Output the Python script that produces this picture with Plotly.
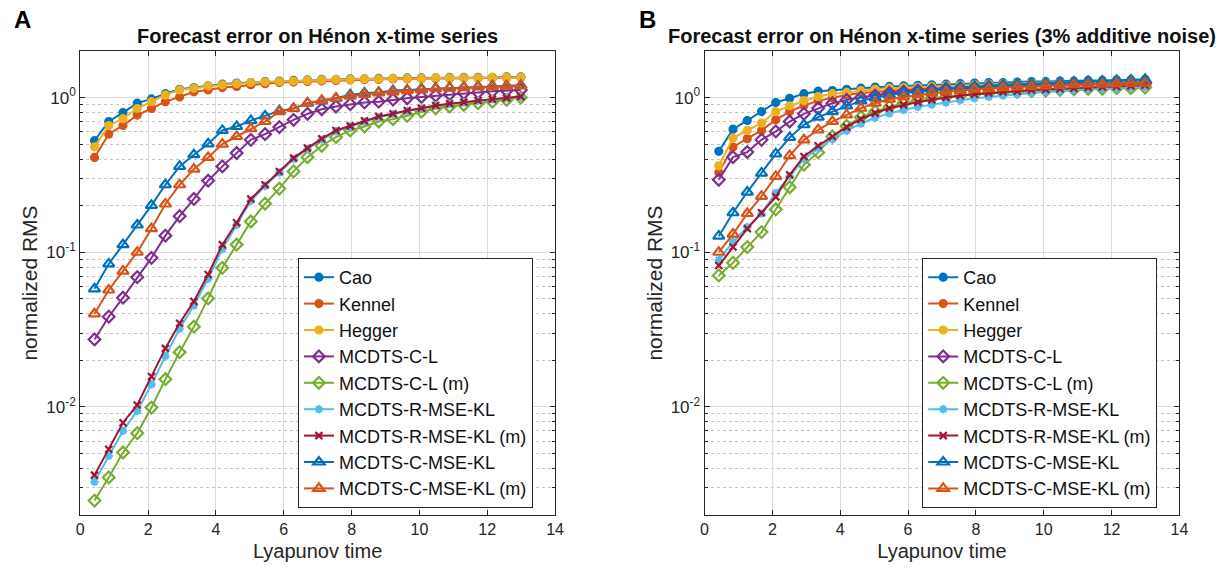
import plotly.graph_objects as go

# ---------------- data ----------------
lyap_time = [0.42, 0.84, 1.26, 1.68, 2.10, 2.51, 2.93, 3.35, 3.77, 4.19, 4.61, 5.03, 5.45,
             5.87, 6.29, 6.70, 7.12, 7.54, 7.96, 8.38, 8.80, 9.22, 9.64, 10.06, 10.48,
             10.89, 11.31, 11.73, 12.15, 12.57, 12.99]

names = ["Cao", "Kennel", "Hegger", "MCDTS-C-L", "MCDTS-C-L (m)", "MCDTS-R-MSE-KL",
         "MCDTS-R-MSE-KL (m)", "MCDTS-C-MSE-KL", "MCDTS-C-MSE-KL (m)"]

# Panel A (noise free)
cao_A = [0.526, 0.70, 0.80, 0.92, 0.98, 1.06, 1.13, 1.16, 1.19, 1.22, 1.24, 1.25, 1.27, 1.28, 1.29,
         1.30, 1.31, 1.31, 1.32, 1.32, 1.33, 1.33, 1.34, 1.34, 1.34, 1.35, 1.35, 1.35, 1.35, 1.36, 1.36]
kennel_A = [0.41, 0.58, 0.66, 0.77, 0.85, 0.94, 1.01, 1.09, 1.12, 1.16, 1.18, 1.21, 1.23, 1.25, 1.26,
            1.27, 1.28, 1.29, 1.30, 1.31, 1.31, 1.32, 1.32, 1.33, 1.33, 1.33, 1.34, 1.34, 1.34, 1.34, 1.35]
hegger_A = [0.48, 0.66, 0.73, 0.85, 0.94, 1.04, 1.12, 1.15, 1.19, 1.21, 1.23, 1.25, 1.26, 1.27, 1.28,
            1.29, 1.30, 1.31, 1.31, 1.32, 1.32, 1.33, 1.33, 1.33, 1.34, 1.34, 1.34, 1.34, 1.35, 1.35, 1.35]
cl_A = [0.0273, 0.0383, 0.0508, 0.069, 0.092, 0.128, 0.171, 0.221, 0.29, 0.359, 0.438, 0.533, 0.58,
        0.644, 0.718, 0.785, 0.84, 0.875, 0.906, 0.93, 0.94, 0.97, 0.99, 1.01, 1.03, 1.05, 1.07, 1.08,
        1.10, 1.11, 1.12]
clm_A = [0.00248, 0.0035, 0.00507, 0.00676, 0.0099, 0.0151, 0.0226, 0.033, 0.0503, 0.0793, 0.112,
         0.158, 0.206, 0.258, 0.333, 0.412, 0.488, 0.555, 0.613, 0.65, 0.70, 0.725, 0.762, 0.81, 0.853,
         0.875, 0.898, 0.92, 0.94, 0.965, 1.0]
rmsekl_A = [0.00328, 0.00483, 0.0070, 0.0094, 0.014, 0.0213, 0.032, 0.0453, 0.0673, 0.105, 0.150,
            0.215, 0.268, 0.328, 0.40, 0.465, 0.535, 0.605, 0.65, 0.70, 0.748, 0.78, 0.82, 0.85, 0.884,
            0.907, 0.93, 0.953, 0.973, 0.99, 1.01]
rmseklm_A = [0.00362, 0.00533, 0.0079, 0.0103, 0.0157, 0.0239, 0.0347, 0.0481, 0.0718, 0.112, 0.155,
             0.221, 0.273, 0.333, 0.406, 0.471, 0.542, 0.613, 0.656, 0.708, 0.754, 0.785, 0.824, 0.853,
             0.888, 0.911, 0.934, 0.957, 0.977, 0.995, 1.015]
cmsekl_A = [0.058, 0.084, 0.112, 0.150, 0.201, 0.273, 0.359, 0.427, 0.502, 0.613, 0.65, 0.71, 0.76,
            0.82, 0.85, 0.92, 0.95, 0.99, 1.04, 1.07, 1.08, 1.11, 1.12, 1.14, 1.15, 1.16, 1.17, 1.18,
            1.19, 1.19, 1.20]
cmseklm_A = [0.040, 0.057, 0.0755, 0.100, 0.142, 0.205, 0.273, 0.345, 0.41, 0.50, 0.56, 0.63, 0.70,
             0.81, 0.85, 0.92, 0.96, 0.99, 1.02, 1.05, 1.07, 1.09, 1.11, 1.12, 1.14, 1.15, 1.16, 1.17,
             1.18, 1.19, 1.19]

# Panel B (3% additive noise)
cao_B = [0.449, 0.625, 0.711, 0.812, 0.929, 0.99, 1.06, 1.10, 1.11, 1.13, 1.15, 1.17, 1.18, 1.19, 1.20,
         1.21, 1.22, 1.23, 1.24, 1.25, 1.25, 1.26, 1.27, 1.27, 1.28, 1.28, 1.29, 1.29, 1.30, 1.30, 1.31]
kennel_B = [0.328, 0.479, 0.542, 0.613, 0.718, 0.812, 0.888, 0.952, 0.996, 1.04, 1.07, 1.09, 1.11, 1.13,
            1.14, 1.15, 1.16, 1.17, 1.18, 1.19, 1.19, 1.20, 1.21, 1.21, 1.22, 1.22, 1.23, 1.23, 1.24, 1.24, 1.25]
hegger_B = [0.362, 0.547, 0.613, 0.684, 0.812, 0.884, 0.956, 1.015, 1.06, 1.08, 1.11, 1.13, 1.15, 1.16,
            1.17, 1.18, 1.19, 1.20, 1.21, 1.22, 1.23, 1.23, 1.24, 1.25, 1.25, 1.26, 1.26, 1.27, 1.27, 1.28, 1.28]
cl_B = [0.294, 0.412, 0.444, 0.533, 0.604, 0.70, 0.785, 0.853, 0.92, 0.966, 1.0, 1.03, 1.07, 1.09, 1.11,
        1.12, 1.14, 1.15, 1.16, 1.17, 1.18, 1.19, 1.19, 1.20, 1.21, 1.21, 1.22, 1.22, 1.23, 1.23, 1.24]
clm_B = [0.0708, 0.0854, 0.108, 0.135, 0.189, 0.263, 0.368, 0.442, 0.56, 0.656, 0.747, 0.812, 0.87, 0.92,
         0.96, 0.99, 1.01, 1.03, 1.05, 1.07, 1.08, 1.09, 1.10, 1.11, 1.12, 1.13, 1.14, 1.14, 1.15, 1.15, 1.16]
rmsekl_B = [0.089, 0.117, 0.145, 0.178, 0.242, 0.31, 0.40, 0.47, 0.54, 0.61, 0.68, 0.74, 0.79, 0.83,
            0.87, 0.90, 0.93, 0.96, 0.99, 1.01, 1.03, 1.05, 1.07, 1.09, 1.10, 1.12, 1.13, 1.14, 1.15, 1.16, 1.17]
rmseklm_B = [0.082, 0.108, 0.142, 0.18, 0.228, 0.317, 0.416, 0.488, 0.56, 0.644, 0.725, 0.793, 0.853,
             0.897, 0.934, 0.966, 1.0, 1.03, 1.05, 1.07, 1.09, 1.10, 1.12, 1.13, 1.14, 1.15, 1.16, 1.17,
             1.18, 1.19, 1.20]
cmsekl_B = [0.127, 0.18, 0.245, 0.325, 0.433, 0.552, 0.667, 0.747, 0.812, 0.884, 0.952, 0.996, 1.04,
            1.07, 1.10, 1.12, 1.14, 1.16, 1.18, 1.19, 1.21, 1.22, 1.23, 1.24, 1.25, 1.26, 1.27, 1.28,
            1.29, 1.30, 1.31]
cmseklm_B = [0.10, 0.131, 0.178, 0.23, 0.309, 0.421, 0.533, 0.619, 0.70, 0.773, 0.853, 0.92, 0.976,
             1.01, 1.04, 1.07, 1.09, 1.11, 1.13, 1.14, 1.16, 1.17, 1.18, 1.19, 1.20, 1.21, 1.22, 1.22,
             1.23, 1.24, 1.24]

series_A = [cao_A, kennel_A, hegger_A, cl_A, clm_A, rmsekl_A, rmseklm_A, cmsekl_A, cmseklm_A]
series_B = [cao_B, kennel_B, hegger_B, cl_B, clm_B, rmsekl_B, rmseklm_B, cmsekl_B, cmseklm_B]

x_ticks = [0, 2, 4, 6, 8, 10, 12, 14]
y_ticks = [0.01, 0.1, 1]
y_ticktext = ["10<sup>-2</sup>", "10<sup>-1</sup>", "10<sup>0</sup>"]

# ---------------- style ----------------
colors = ["#0072BD", "#D95319", "#EDB120", "#7E2F8E", "#77AC30", "#4DBEEE", "#A2142F",
          "#0072BD", "#D95319"]
symbols = ["circle", "circle", "circle", "diamond-open", "diamond-open", "asterisk-open",
           "x-thin-open", "triangle-up-open", "triangle-up-open"]
msizes = [7, 7, 7, 9, 9, 7, 7, 10, 10]

FONT = "Liberation Sans, Arial, Helvetica, sans-serif"
AXC = "#262626"

fig = go.Figure()

for panel, (series, xa, ya, leg) in enumerate([(series_A, "x", "y", "legend"),
                                                (series_B, "x2", "y2", "legend2")]):
    for i, (nm, vals) in enumerate(zip(names, series)):
        fig.add_trace(go.Scatter(
            x=lyap_time, y=vals, name=nm, mode="lines+markers",
            xaxis=xa, yaxis=ya, legend=leg,
            line=dict(color=colors[i], width=2),
            marker=dict(symbol=symbols[i], size=msizes[i], color=colors[i],
                        line=dict(color=colors[i], width=2.2)),
        ))

minor_vals = [m * 10 ** e for e in (-3, -2, -1, 0) for m in range(2, 10) if m * 10 ** e <= 2.0]

def xaxis(domain, anchor):
    return dict(domain=domain, anchor=anchor, range=[0, 14], tickvals=x_ticks,
                showgrid=True, gridcolor="#dcdcdc", gridwidth=1, zeroline=False,
                showline=True, linecolor=AXC, linewidth=1, mirror="ticks",
                ticks="inside", ticklen=5, tickcolor=AXC,
                tickfont=dict(family=FONT, size=16, color=AXC),
                title=dict(text="Lyapunov time", font=dict(family=FONT, size=20, color=AXC), standoff=6))

def yaxis(domain, anchor):
    return dict(domain=domain, anchor=anchor, type="log", range=[-2.699, 0.301],
                tickvals=y_ticks, ticktext=y_ticktext,
                showgrid=True, gridcolor="#dcdcdc", gridwidth=1, zeroline=False,
                showline=True, linecolor=AXC, linewidth=1, mirror="ticks",
                ticks="inside", ticklen=5, tickcolor=AXC,
                tickfont=dict(family=FONT, size=17, color=AXC),
                minor=dict(tickvals=minor_vals, showgrid=True, gridcolor="#c4c4c4",
                           griddash="dot", gridwidth=1, ticks="inside", ticklen=3, tickcolor=AXC),
                title=dict(text="normalized RMS", font=dict(family=FONT, size=21, color=AXC), standoff=2))

ydom = [0.0933, 0.9102]
legfont = dict(family=FONT, size=18, color="#111111")
fig.update_layout(
    width=1229, height=568,
    margin=dict(l=0, r=0, t=0, b=0),
    paper_bgcolor="white", plot_bgcolor="white",
    font=dict(family=FONT, color=AXC),
    xaxis=xaxis([0.0627, 0.4532], "y"),
    yaxis=yaxis(ydom, "x"),
    xaxis2=xaxis([0.5761, 0.9666], "y2"),
    yaxis2=yaxis(ydom, "x2"),
    legend=dict(x=0.2417, y=1 - 508 / 568, xanchor="left", yanchor="bottom",
                bgcolor="white", bordercolor=AXC, borderwidth=1, font=legfont,
                itemwidth=30, tracegroupgap=0, entrywidth=204, entrywidthmode="pixels"),
    legend2=dict(x=0.7551, y=1 - 508 / 568, xanchor="left", yanchor="bottom",
                 bgcolor="white", bordercolor=AXC, borderwidth=1, font=legfont,
                 itemwidth=30, tracegroupgap=0, entrywidth=204, entrywidthmode="pixels"),
    annotations=[
        dict(text="<b>Forecast error on Hénon x-time series</b>", x=0.258, y=1 - 36 / 568,
             xref="paper", yref="paper", xanchor="center", yanchor="middle", showarrow=False,
             font=dict(family=FONT, size=20, color="#111111")),
        dict(text="<b>Forecast error on Hénon x-time series (3% additive noise)</b>", x=0.7713,
             y=1 - 36 / 568, xref="paper", yref="paper", xanchor="center", yanchor="middle",
             showarrow=False, font=dict(family=FONT, size=20, color="#111111")),
        dict(text="<b>A</b>", x=8 / 1229, y=1 - 19 / 568, xref="paper", yref="paper",
             xanchor="left", yanchor="middle", showarrow=False,
             font=dict(family=FONT, size=24, color="black")),
        dict(text="<b>B</b>", x=640 / 1229, y=1 - 19 / 568, xref="paper", yref="paper",
             xanchor="left", yanchor="middle", showarrow=False,
             font=dict(family=FONT, size=24, color="black")),
    ],
)

fig.write_html("out.html")
